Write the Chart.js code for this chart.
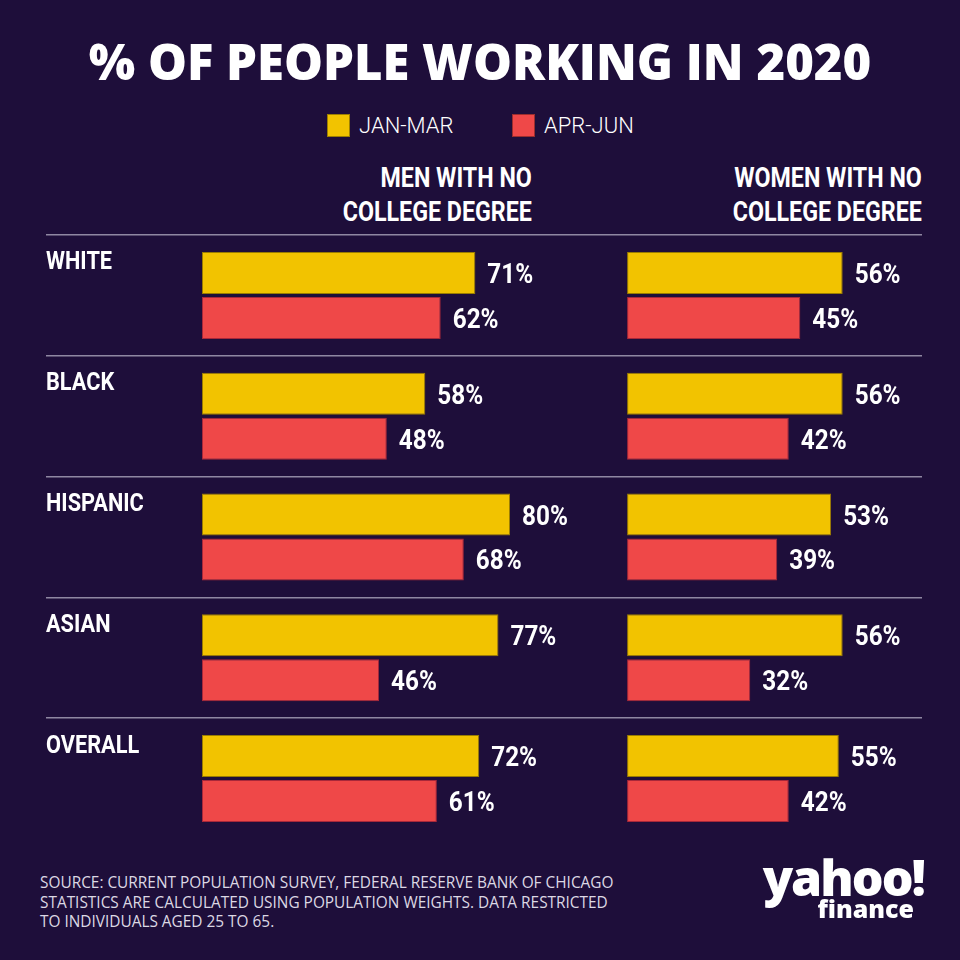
<!DOCTYPE html>
<html>
<head>
<meta charset="utf-8">
<script src="https://cdn.jsdelivr.net/npm/chart.js@4.4.1/dist/chart.umd.min.js"></script>
<style>
  body { margin: 0; width: 960px; height: 960px; background: #1e0e3a; position: relative; overflow: hidden; color: #fff; font-family: Roboto, sans-serif; }
  #title { position: absolute; top: 28px; left: 0; width: 960px; text-align: center; font: 800 49px "Open Sans", sans-serif; }
  .item { position: absolute; top: 114px; display: flex; align-items: center; font-size: 22px; font-weight: 300; height: 23px; }
  .item .sw { width: 23px; height: 23px; margin-right: 9px; box-sizing: border-box; border: 1px solid rgba(0,0,0,0.35); }
  .head { position: absolute; top: 161px; text-align: right; font-weight: bold; font-size: 27px; line-height: 34px; transform: scaleX(0.86); transform-origin: right top; white-space: nowrap; }
  #menHead { right: 428px; }
  #womenHead { right: 38px; }
  canvas { position: absolute; top: 225px; left: 0; }
  #source { position: absolute; top: 873px; left: 40px; font: 15.4px "Open Sans", sans-serif; line-height: 19.5px; color: #dcd8e4; white-space: nowrap; }
  #logo { position: absolute; top: 852px; left: 752px; width: 172px; text-align: right; font-family: "Open Sans", sans-serif; font-weight: 800; line-height: 1; }
  #logo .y { font-size: 50px; letter-spacing: -2px; }
  #logo .f { font-size: 25px; margin-top: -6px; margin-right: 10px; }
</style>
</head>
<body>
<div id="title">% OF PEOPLE WORKING IN 2020</div>
<div id="legend"></div>
<div class="head" id="menHead">MEN WITH NO<br>COLLEGE DEGREE</div>
<div class="head" id="womenHead">WOMEN WITH NO<br>COLLEGE DEGREE</div>
<canvas id="chart" width="960" height="624"></canvas>
<div id="source">SOURCE: CURRENT POPULATION SURVEY, FEDERAL RESERVE BANK OF CHICAGO<br>STATISTICS ARE CALCULATED USING POPULATION WEIGHTS. DATA RESTRICTED<br>TO INDIVIDUALS AGED 25 TO 65.</div>
<div id="logo"><div class="y">yahoo!</div><div class="f">finance</div></div>
<script>
const groups = ["WHITE", "BLACK", "HISPANIC", "ASIAN", "OVERALL"];
const periods = ["JAN-MAR", "APR-JUN"];
const menJanMar = [71, 58, 80, 77, 72];
const menAprJun = [62, 48, 68, 46, 61];
const womenJanMar = [56, 56, 53, 56, 55];
const womenAprJun = [45, 42, 39, 32, 42];

const yellow = "#f2c300";
const red = "#ef4848";

// legend
const legend = document.getElementById("legend");
[yellow, red].forEach((c, i) => {
  const item = document.createElement("div");
  item.className = "item";
  item.style.left = i === 0 ? "327px" : "512px";
  item.innerHTML = `<span class="sw" style="background:${c}"></span>${periods[i]}`;
  legend.appendChild(item);
});

// draw condensed text: no narrow font installed, so squeeze Roboto
function squeezed(ctx, text, x, y, sx) {
  ctx.save();
  ctx.translate(x, y);
  ctx.scale(sx, 1);
  ctx.fillText(text, 0, 0);
  ctx.restore();
}

const rowLabels = {
  id: "rowLabels",
  afterDraw(chart) {
    const { ctx } = chart;
    const yScale = chart.scales.y;
    ctx.save();
    ctx.font = "bold 26.5px Roboto";
    ctx.fillStyle = "#fff";
    ctx.textBaseline = "alphabetic";
    groups.forEach((g, i) => {
      squeezed(ctx, g, yScale.left, yScale.getPixelForValue(i) - 26, 0.82);
    });
    ctx.restore();
  },
};

const valueLabels = {
  id: "valueLabels",
  afterDatasetsDraw(chart) {
    const { ctx } = chart;
    ctx.save();
    ctx.font = "bold 27px Roboto";
    ctx.fillStyle = "#fff";
    ctx.textBaseline = "alphabetic";
    chart.data.datasets.forEach((ds, i) => {
      chart.getDatasetMeta(i).data.forEach((bar, j) => {
        squeezed(ctx, ds.data[j] + "%", bar.x + 12, bar.y + 10, 0.9);
      });
    });
    ctx.restore();
  },
};

const bar = (data, color, border, stack, xAxisID) => ({
  data,
  backgroundColor: color,
  borderColor: border,
  borderWidth: 1,
  borderSkipped: false,
  stack,
  xAxisID,
  categoryPercentage: 0.745,
  barPercentage: 0.933,
});

new Chart(document.getElementById("chart"), {
  type: "bar",
  data: {
    labels: groups,
    datasets: [
      bar(menJanMar, yellow, "#9a7c00", "jan", "x"),
      bar(menAprJun, red, "#a8283a", "apr", "x"),
      bar(womenJanMar, yellow, "#9a7c00", "jan", "x2"),
      bar(womenAprJun, red, "#a8283a", "apr", "x2"),
    ],
  },
  options: {
    indexAxis: "y",
    responsive: false,
    animation: false,
    layout: { padding: { left: 46, right: 38, top: 10, bottom: 10 } },
    plugins: { legend: { display: false }, tooltip: { enabled: false } },
    scales: {
      y: {
        afterFit: (s) => { s.width = 156; },
        border: { display: false },
        grid: {
          offset: true,
          lineWidth: 1.5,
          tickLength: 156,
          color: (c) => (c.type === "tick" ? "#8f87a2" : "transparent"),
        },
        ticks: { display: false },
      },
      // men: 0% sits at the chart's left edge
      x: { display: false, stacked: false, min: 0, max: 187 },
      // women: 0% sits 110 units to the right
      x2: { display: false, stacked: false, min: -110.4, max: 76.6 },
    },
  },
  plugins: [valueLabels, rowLabels],
});
</script>
</body>
</html>
